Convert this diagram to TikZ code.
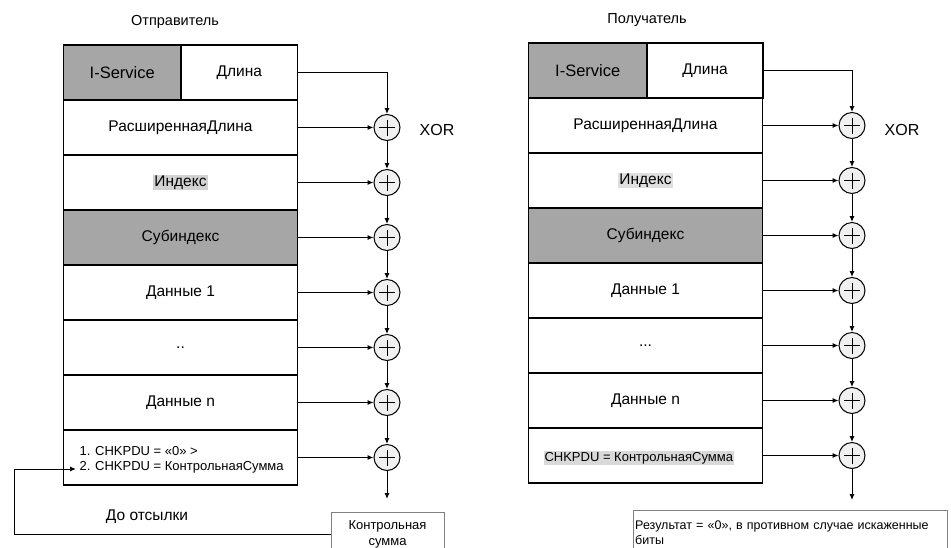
\documentclass[tikz,border=0pt]{standalone}
\usepackage{fontspec}
\setmainfont{Liberation Sans}
\usetikzlibrary{arrows.meta}

\begin{document}
\begin{tikzpicture}[x=1pt, y=-1pt,
    cell/.style={draw, line width=1.3pt, minimum width=234pt, minimum height=55pt, inner sep=0pt, font=\fontsize{15.5}{17}\selectfont},
    shaded/.style={fill=gray!70},
    xorgate/.style={circle, draw, line width=1pt, fill=gray!12, minimum size=26pt, inner sep=0pt,
        path picture={\draw[line width=1pt] ([yshift=8pt]path picture bounding box.center) -- ([yshift=-8pt]path picture bounding box.center)
            ([xshift=-8pt]path picture bounding box.center) -- ([xshift=8pt]path picture bounding box.center);}},
    flow/.style={line width=1pt, -{Latex[length=6pt, width=5pt]}},
    heading/.style={font=\fontsize{14.5}{16}\selectfont},
    xortext/.style={font=\fontsize{16}{18}\selectfont},
    note/.style={font=\fontsize{13}{15.5}\selectfont, align=left}]

    \useasboundingbox (0,0) rectangle (951,547);
    \fboxsep=1pt

    % 1. Sender side: the frame rows
    \node[heading] (Lhead) at (175,22) {Отправитель};
    \node[cell, shaded, minimum width=117.5pt, font=\fontsize{16.5}{18}\selectfont] (L1a) at (122.25,72.5) {I-Service};
    \node[cell, minimum width=116.5pt] (L1b) at (239.25,72.5) {Длина};
    \node[cell] (L2) at (180.5,127.5) {РасширеннаяДлина};
    \node[cell] (L3) at (180.5,182.5) {\colorbox{gray!35}{Индекс}};
    \node[cell, shaded] (L4) at (180.5,237.5) {Субиндекс};
    \node[cell] (L5) at (180.5,292.5) {Данные 1};
    \node[cell] (L6) at (180.5,347.5) {..};
    \node[cell] (L7) at (180.5,402.5) {Данные n};
    \node[cell] (L8) at (180.5,457.5) {};
    \node[note, anchor=west] (L8t) at (76,460) {1. CHKPDU = «0» >\\2. CHKPDU = КонтрольнаяСумма};

    % 2. Sender side: the XOR chain
    \node[xorgate] (LX2) at (387,127.5) {};
    \node[xorgate] (LX3) at (387,182.5) {};
    \node[xorgate] (LX4) at (387,237.5) {};
    \node[xorgate] (LX5) at (387,292.5) {};
    \node[xorgate] (LX6) at (387,347.5) {};
    \node[xorgate] (LX7) at (387,402.5) {};
    \node[xorgate] (LX8) at (387,457.5) {};
    \node[xortext] (LXOR) at (437,130) {XOR};

    \draw[flow] (L1b.east) -| (LX2.north);
    \draw[flow] (L2.east) -- (LX2.west);
    \draw[flow] (L3.east) -- (LX3.west);
    \draw[flow] (L4.east) -- (LX4.west);
    \draw[flow] (L5.east) -- (LX5.west);
    \draw[flow] (L6.east) -- (LX6.west);
    \draw[flow] (L7.east) -- (LX7.west);
    \draw[flow] (L8.east) -- (LX8.west);
    \draw[flow] (LX2) -- (LX3);
    \draw[flow] (LX3) -- (LX4);
    \draw[flow] (LX4) -- (LX5);
    \draw[flow] (LX5) -- (LX6);
    \draw[flow] (LX6) -- (LX7);
    \draw[flow] (LX7) -- (LX8);

    % 3. Sender side: checksum goes back into the frame
    \coordinate (Lout) at (387,499);
    \coordinate (Lbend) at (14,469);
    \coordinate (Lin) at (76,469);
    \draw[flow] (LX8.south) -- (Lout);
    \node[note, draw=gray, align=center, anchor=north, minimum width=113pt, minimum height=44pt] (KS) at (387.5,512) {Контрольная\\сумма};
    \draw[flow] (KS.west) -| (Lbend) -- (Lin);
    \node[font=\fontsize{15.5}{17}\selectfont] (Ltext) at (147,517) {До отсылки};

    % 4. Receiver side: the frame rows
    \node[heading] (Rhead) at (647,20) {Получатель};
    \node[cell, shaded, minimum width=119pt, font=\fontsize{16.5}{18}\selectfont] (R1a) at (587.75,70.5) {I-Service};
    \node[cell, minimum width=116pt] (R1b) at (705,70.5) {Длина};
    \node[cell] (R2) at (645.5,125.5) {РасширеннаяДлина};
    \node[cell] (R3) at (645.5,180.5) {\colorbox{gray!25}{Индекс}};
    \node[cell, shaded] (R4) at (645.5,235.5) {Субиндекс};
    \node[cell] (R5) at (645.5,290.5) {Данные 1};
    \node[cell] (R6) at (645.5,345.5) {...};
    \node[cell] (R7) at (645.5,400.5) {Данные n};
    \node[cell] (R8) at (645.5,455.5) {};
    \node[note, anchor=west] (R8t) at (540,458) {\colorbox{gray!30}{CHKPDU = КонтрольнаяСумма}};

    % 5. Receiver side: the XOR chain
    \node[xorgate] (RX2) at (852,125.5) {};
    \node[xorgate] (RX3) at (852,180.5) {};
    \node[xorgate] (RX4) at (852,235.5) {};
    \node[xorgate] (RX5) at (852,290.5) {};
    \node[xorgate] (RX6) at (852,345.5) {};
    \node[xorgate] (RX7) at (852,400.5) {};
    \node[xorgate] (RX8) at (852,455.5) {};
    \node[xortext] (RXOR) at (902,130) {XOR};

    \draw[flow] (R1b.east) -| (RX2.north);
    \draw[flow] (R2.east) -- (RX2.west);
    \draw[flow] (R3.east) -- (RX3.west);
    \draw[flow] (R4.east) -- (RX4.west);
    \draw[flow] (R5.east) -- (RX5.west);
    \draw[flow] (R6.east) -- (RX6.west);
    \draw[flow] (R7.east) -- (RX7.west);
    \draw[flow] (R8.east) -- (RX8.west);
    \draw[flow] (RX2) -- (RX3);
    \draw[flow] (RX3) -- (RX4);
    \draw[flow] (RX4) -- (RX5);
    \draw[flow] (RX5) -- (RX6);
    \draw[flow] (RX6) -- (RX7);
    \draw[flow] (RX7) -- (RX8);

    % 6. Receiver side: result
    \coordinate (Rout) at (852,500);
    \draw[flow] (RX8.south) -- (Rout);
    \node[note, font=\fontsize{12.5}{15}\selectfont, draw=gray, anchor=north west, text width=310pt, minimum height=44pt, inner sep=2pt] (RES) at (633,510)
        {Результат = «0», в противном случае искаженные\\биты};

\end{tikzpicture}
\end{document}
